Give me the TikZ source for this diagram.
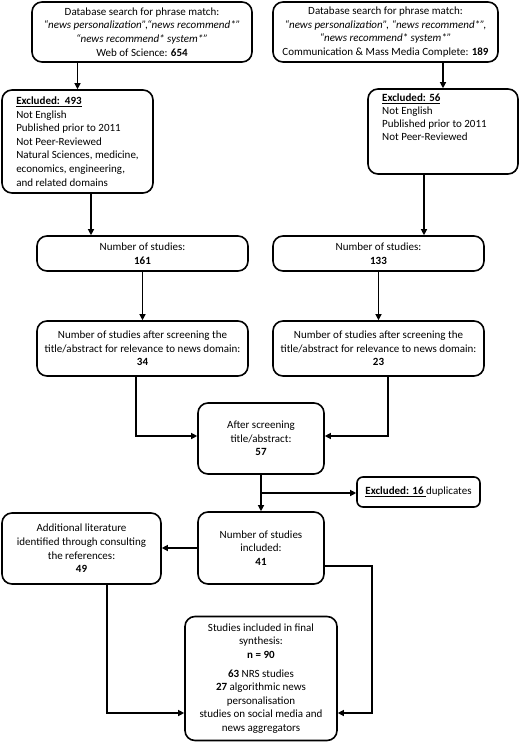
\documentclass[tikz,border=0pt]{standalone}
\usepackage{fontspec}
\setmainfont{Carlito}
\usetikzlibrary{arrows.meta,calc}
\begin{document}
\begin{tikzpicture}[x=1pt,y=-1pt,
  box/.style={draw,line width=1.6pt,rounded corners=10pt,align=center,inner sep=1pt,
    font=\fontsize{11}{13.6}\selectfont},
  arr/.style={line width=1.2pt,-{Triangle[length=6pt,width=6pt]}}]
\useasboundingbox (0,0) rectangle (520,742);
\fill[white] (0,0) rectangle (520,742);

\node[box,minimum width=220pt,minimum height=60pt] (A) at (142,32)
  {Database search for phrase match:\\
   \textit{“news personalization”,“news recommend*”}\\
   \textit{“news recommend* system*”}\\
   Web of Science: \textbf{654}};
\node[box,minimum width=225pt,minimum height=60pt] (B) at (385.5,32)
  {Database search for phrase match:\\
   \textit{“news personalization”, “news recommend*”,}\\
   \textit{“news recommend* system*”}\\
   Communication \& Mass Media Complete: \textbf{189}};

\node[box,align=left,minimum width=151pt,minimum height=103pt] (E1) at (77.5,141.5)
  {\underline{\textbf{Excluded:\ \ 493}}\\
   Not English\\
   Published prior to 2011\\
   Not Peer-Reviewed\\
   Natural Sciences, medicine,\\
   economics, engineering,\\
   and related domains};
\node[box,minimum width=150pt,minimum height=85pt] (E2) at (443,131.5) {};
\node[anchor=north west,align=left,inner sep=0pt,font=\fontsize{11}{12.8}\selectfont] (E2t) at (382,94)
  {\underline{\textbf{Excluded: 56}}\\
   Not English\\
   Published prior to 2011\\
   Not Peer-Reviewed};

\node[box,minimum width=211pt,minimum height=35pt] (N161) at (142.5,253.5)
  {Number of studies:\\ \textbf{161}};
\node[box,minimum width=211pt,minimum height=35pt] (N133) at (378.5,253.5)
  {Number of studies:\\ \textbf{133}};

\node[box,minimum width=211pt,minimum height=55pt] (S34) at (142.5,348.5)
  {Number of studies after screening the\\
   title/abstract for relevance to news domain:\\ \textbf{34}};
\node[box,minimum width=211pt,minimum height=55pt] (S23) at (378.5,348.5)
  {Number of studies after screening the\\
   title/abstract for relevance to news domain:\\ \textbf{23}};

\node[box,minimum width=126pt,minimum height=71pt] (B57) at (261,438.5)
  {After screening\\ title/abstract:\\ \textbf{57}};
\node[box,rounded corners=6pt,minimum width=123pt,minimum height=30pt] (X16) at (418.5,492)
  {\underline{\textbf{Excluded: 16 }}duplicates};
\node[box,minimum width=126pt,minimum height=72pt] (B41) at (261,548)
  {Number of studies\\ included:\\ \textbf{41}};
\node[box,minimum width=159pt,minimum height=71pt] (A49) at (81.5,548.5)
  {Additional literature\\ identified through consulting\\ the references:\\ \textbf{49}};
\node[box,minimum width=152pt,minimum height=124pt] (F90) at (261,678.5)
  {Studies included in final\\ synthesis:\\ \textbf{n = 90}\\[5pt]
   \textbf{63} NRS studies\\ \textbf{27} algorithmic news\\ personalisation\\
   studies on social media and\\ news aggregators};

\draw[arr] (A.south -| E1.north) -- (E1.north);
\draw[arr] (B.south -| E2.north) -- (E2.north);
\draw[arr] ([xshift=13.5pt]E1.south) -- ([xshift=13.5pt]E1.south |- N161.north);
\draw[arr] ([xshift=-19pt]E2.south) -- ([xshift=-19pt]E2.south |- N133.north);
\draw[arr] (N161) -- (S34);
\draw[arr] (N133) -- (S23);
\draw[arr] ([xshift=-6.5pt]S34.south) |- ([yshift=2.5pt]B57.west);
\draw[arr] ([xshift=9.5pt]S23.south) |- ([yshift=2.5pt]B57.east);
\draw[arr] (B57) -- (B41);
\coordinate (br) at ($(B57.south)!0.5!(B41.north)$);
\draw[arr] (br) -- (br -| X16.west);
\draw[arr] (B41.west) -- (B41.west -| A49.east);
\coordinate (rc) at (372,566);
\draw[arr] (B41.east |- rc) -- (rc) |- ([yshift=-34.5pt]F90.east);
\draw[arr] ([xshift=25.5pt]A49.south) |- ([yshift=-34.5pt]F90.west);
\end{tikzpicture}
\end{document}
